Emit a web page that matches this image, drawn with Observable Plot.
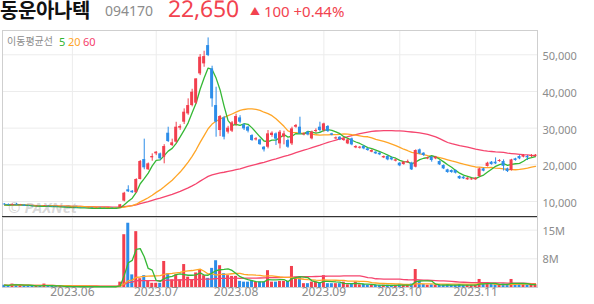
<!DOCTYPE html>
<html><head><meta charset="utf-8">
<script src="https://cdn.jsdelivr.net/npm/d3@7"></script>
<script src="https://cdn.jsdelivr.net/npm/@observablehq/plot@0.6"></script>
<style>
@font-face{font-family:"TitleKR";src:local("Noto Sans CJK KR Bold"),local("NotoSansCJKkr-Bold"),local("Noto Sans CJK KR");font-weight:700;ascent-override:85%;descent-override:15%;line-gap-override:0%;}
@font-face{font-family:"PriceNS";src:local("Noto Sans Regular"),local("NotoSans-Regular"),local("Noto Sans");ascent-override:75%;descent-override:25%;line-gap-override:0%;}
html,body{margin:0;padding:0;background:#fff;}
body{width:594px;height:304px;position:relative;overflow:hidden;font-family:"Noto Sans","Noto Sans CJK KR",sans-serif;}
.abs{position:absolute;white-space:nowrap;line-height:1;}
</style></head>
<body>
<div class="abs" style="left:0;top:1px;line-height:20px;font-family:'TitleKR','Noto Sans CJK KR';font-size:20px;font-weight:700;color:#111;">동운아나텍</div>
<div class="abs" style="left:105px;top:4px;font-size:14px;color:#8c8c8c;">094170</div>
<div class="abs" style="left:168px;top:0;line-height:23px;font-family:'PriceNS','Noto Sans';font-size:23px;color:#f2434f;">22,650</div>
<div class="abs" style="left:250px;top:4px;font-size:15px;color:#f2434f;"><span style="font-size:10px;position:relative;top:-2px;">▲</span> 100 +0.44%</div>
<div id="price" class="abs" style="left:0;top:29px;"></div>
<div id="vol" class="abs" style="left:0;top:217px;"></div>
<div class="abs" style="left:2px;top:216px;width:535px;height:1px;background:#333;"></div>
<div class="abs" style="left:7px;top:36px;font-family:'Noto Sans CJK KR';font-size:10px;color:#8c8c8c;">이동평균선</div>
<div class="abs" style="left:59px;top:36px;font-size:11px;color:#2fb52f;">5</div>
<div class="abs" style="left:68px;top:36px;font-size:11px;color:#ffa526;">20</div>
<div class="abs" style="left:83px;top:36px;font-size:11px;color:#f5416c;">60</div>
<div class="abs" style="left:8px;top:200px;font-size:15px;font-weight:700;font-style:italic;color:rgba(120,120,120,0.28);">© PAXNet</div>
<script>
const open = [
9300,9200,9000,9250,9000,9000,8700,8700,8600,8700,
8650,8750,8600,8500,8400,8450,8350,8300,8350,8250,
8200,8100,8200,8100,8200,8150,8100,8200,8150,8300,
10100,13190,12800,12370,16000,21440,18640,21900,22990,22990,
22070,28620,25260,26170,29990,31620,33890,36160,36800,44790,
47520,52510,46150,36160,29350,32800,28900,29170,30990,32800,
30890,30260,27980,26800,26800,24800,24800,28000,28440,25710,
27530,26620,25710,30260,30260,28170,28900,27080,29080,30260,
29350,30440,28440,27080,27530,26620,25710,27080,24620,24530,
24990,24350,23440,23440,23170,21900,22260,21900,20990,20450,
20080,20540,20450,19360,24080,23170,21630,22080,21630,20900,
19810,18630,18450,18450,16810,16630,15900,15900,15900,16810,
18900,19540,20720,20720,20900,20900,18900,18450,21630,22260,
22080,22260,22260,22260];
const high = [
9400,9300,9300,9500,9200,9050,8800,8750,8750,8750,
8900,8800,8650,8550,8500,8500,8400,8400,8400,8300,
8250,8200,8250,8200,8250,8200,8200,8250,8200,9200,
12500,14280,13000,16200,21170,27000,20500,22990,23600,23200,
25500,30250,27000,31600,30900,35250,37980,40600,43430,50060,
50970,54600,46880,41160,33440,33200,30500,31800,33800,33400,
31200,30500,28200,27400,27000,25000,29350,29000,28700,29350,
29170,27000,30260,31000,32980,28700,29100,29200,29800,31620,
31340,30700,28600,27600,27700,27400,27000,27300,25200,25000,
25300,24500,24100,23600,23300,22400,22500,22100,21500,20600,
20900,21300,20700,24080,24300,23300,22100,22260,22300,21100,
20000,18800,18600,18600,17000,16800,16500,16300,16500,19100,
19100,20700,20900,21900,21400,21350,19100,21500,21800,22500,
22800,22540,22800,22800];
const low = [
9000,8950,8950,9000,8900,8650,8600,8550,8550,8600,
8600,8550,8450,8400,8350,8350,8250,8250,8200,8100,
8100,8050,8100,8050,8100,8050,8050,8100,8050,8250,
9900,12450,12200,12300,15900,18640,18500,20980,22500,21200,
20270,26080,25000,25900,29400,31000,33500,35800,36500,44330,
46600,49500,35700,27530,27700,26800,28400,28800,30500,31200,
29350,28700,26400,26500,25300,23500,24350,27500,25260,24350,
25440,24500,25260,30000,28300,27900,27900,26800,28620,28900,
28900,28800,27900,26900,26600,26400,25500,25200,24400,24300,
24100,23700,23300,22800,22500,21700,21100,21100,20800,19500,
19900,20400,18450,19180,22800,22300,21400,20720,21400,19800,
18700,17700,17700,17500,16000,16000,15800,15800,15800,16600,
18100,19400,19900,20100,20700,18300,17900,18300,21000,21400,
21900,21170,22000,22100];
const close = [
9100,9000,9200,9050,9100,8700,8650,8600,8700,8650,
8750,8600,8500,8400,8450,8350,8300,8350,8250,8150,
8150,8150,8100,8150,8100,8100,8150,8100,8100,9100,
12260,12640,12400,16000,20900,19180,20270,22270,23450,21630,
24990,26350,26000,30260,30440,34350,36160,39800,43430,49330,
49510,49790,37980,31620,33170,27530,29990,31440,33170,31620,
29800,29170,26620,27100,25500,24080,28440,28620,27000,28900,
28440,24800,29800,30710,28440,28440,28170,28900,29350,29350,
31160,29080,28080,27350,26800,27080,26800,25440,24990,24800,
24350,23900,23900,22990,22720,22260,21350,21350,21350,19720,
20720,20900,18630,23900,22990,22540,21900,21170,22080,19990,
18900,17900,17900,17720,16180,16180,16360,16180,16360,18900,
18270,20450,20080,20260,21170,19600,18170,21350,21170,21630,
22540,21900,22550,22650];
const volume = [
0.6,0.5,0.9,0.8,0.5,0.5,0.4,0.4,0.4,0.3,
0.9,0.4,0.3,0.3,0.3,0.2,0.2,0.2,0.2,0.2,
0.2,0.2,0.2,0.2,0.2,0.2,0.2,0.2,0.2,1.4,
13.8,16.8,3.3,14.6,2.3,3.1,1.6,1.1,1.1,1.1,
6.8,3.6,2.0,3.3,2.0,6.0,2.7,2.0,3.8,4.7,
3.1,2.4,5.0,7.0,5.7,3.6,3.1,2.9,2.9,1.6,
1.4,1.4,1.8,1.4,1.4,1.4,4.4,1.4,1.4,1.6,
1.6,1.6,5.5,2.7,2.7,1.0,1.0,1.4,1.4,1.2,
3.1,1.0,1.0,1.0,1.0,1.4,0.7,1.0,1.4,0.7,
0.8,0.6,0.6,0.6,0.5,0.6,0.6,0.5,0.6,0.7,
0.6,0.7,0.9,4.7,1.6,0.8,0.6,0.7,0.6,0.6,
0.7,0.7,0.6,0.6,0.7,0.6,0.6,0.5,0.6,2.1,
0.9,0.9,0.8,0.8,0.7,0.9,0.8,2.1,0.8,0.8,
0.7,0.7,0.8,0.7];
const monthTickIdx = [17, 38, 58, 80, 99, 118];
const monthLabels = ["2023.06","2023.07","2023.08","2023.09","2023.10","2023.11"];
const priceTicks = [10000, 20000, 30000, 40000, 50000];
const volTicks = [7.5, 15];
const volTickLabels = ["8M", "15M"];

const RED = "#f23f4e", BLUE = "#2c8de9";
const C5 = "#35b835", C20 = "#ffa526", C60 = "#f5456e";
const N = close.length;
const data = d3.range(N).map(i => ({i, o: open[i], h: high[i], l: low[i], c: close[i], v: volume[i], up: close[i] >= open[i]}));
const xOpts = {type: "band", domain: d3.range(N), paddingInner: 0.25, paddingOuter: 0.125, axis: null};
const grid = "#ececec", frameC = "#cfcfcf", txt = "#8c8c8c";
const fmt = d3.format(",");

const price = Plot.plot({
  width: 594, height: 188, marginTop: 1, marginBottom: 0, marginLeft: 2, marginRight: 57,
  style: {fontFamily: "Noto Sans", fontSize: "11px", background: "transparent", overflow: "visible"},
  x: xOpts,
  y: {domain: [5640, 56620], axis: null},
  marks: [
    Plot.ruleY(priceTicks, {stroke: grid}),
    Plot.ruleX(monthTickIdx, {stroke: grid}),
    Plot.frame({stroke: frameC}),
    Plot.lineY(data, Plot.windowY({k: 60, anchor: "end"}, {x: "i", y: "c", stroke: C60, strokeWidth: 1.3})),
    Plot.lineY(data, Plot.windowY({k: 20, anchor: "end"}, {x: "i", y: "c", stroke: C20, strokeWidth: 1.3})),
    Plot.lineY(data, Plot.windowY({k: 5, anchor: "end"}, {x: "i", y: "c", stroke: C5, strokeWidth: 1.3})),
    Plot.ruleX(data, {filter: d => d.up, x: "i", y1: "l", y2: "h", stroke: RED}),
    Plot.ruleX(data, {filter: d => !d.up, x: "i", y1: "l", y2: "h", stroke: BLUE}),
    Plot.barY(data, {filter: d => d.up, x: "i", y1: "o", y2: "c", fill: RED}),
    Plot.barY(data, {filter: d => !d.up, x: "i", y1: "o", y2: "c", fill: BLUE}),
    Plot.text(priceTicks, {y: d => d, frameAnchor: "right", dx: 5, dy: 2, textAnchor: "start", text: d => fmt(d), fill: txt, fontSize: 11})
  ]
});
document.getElementById("price").appendChild(price);

const vol = Plot.plot({
  width: 594, height: 87, marginTop: 0, marginBottom: 17, marginLeft: 2, marginRight: 57,
  style: {fontFamily: "Noto Sans", fontSize: "11px", background: "transparent", overflow: "visible"},
  x: xOpts,
  y: {domain: [0, 18.3], axis: null},
  marks: [
    Plot.ruleY(volTicks, {stroke: grid}),
    Plot.ruleX(monthTickIdx, {stroke: grid}),
    Plot.frame({stroke: frameC}),
    Plot.barY(data, {filter: d => d.up, x: "i", y: "v", fill: RED}),
    Plot.barY(data, {filter: d => !d.up, x: "i", y: "v", fill: BLUE}),
    Plot.lineY(data, Plot.windowY({k: 60, anchor: "end"}, {x: "i", y: "v", stroke: C60, strokeWidth: 1.3})),
    Plot.lineY(data, Plot.windowY({k: 20, anchor: "end"}, {x: "i", y: "v", stroke: C20, strokeWidth: 1.3})),
    Plot.lineY(data, Plot.windowY({k: 5, anchor: "end"}, {x: "i", y: "v", stroke: C5, strokeWidth: 1.3})),
    Plot.text(volTicks, {y: d => d, frameAnchor: "right", dx: 5, dy: 1, textAnchor: "start", text: (d, i) => volTickLabels[i], fill: txt, fontSize: 11}),
    Plot.text(monthTickIdx, {x: d => d, frameAnchor: "bottom", dy: 8, text: (d, i) => monthLabels[i], fill: txt, fontSize: 12})
  ]
});
document.getElementById("vol").appendChild(vol);
</script>
</body></html>
